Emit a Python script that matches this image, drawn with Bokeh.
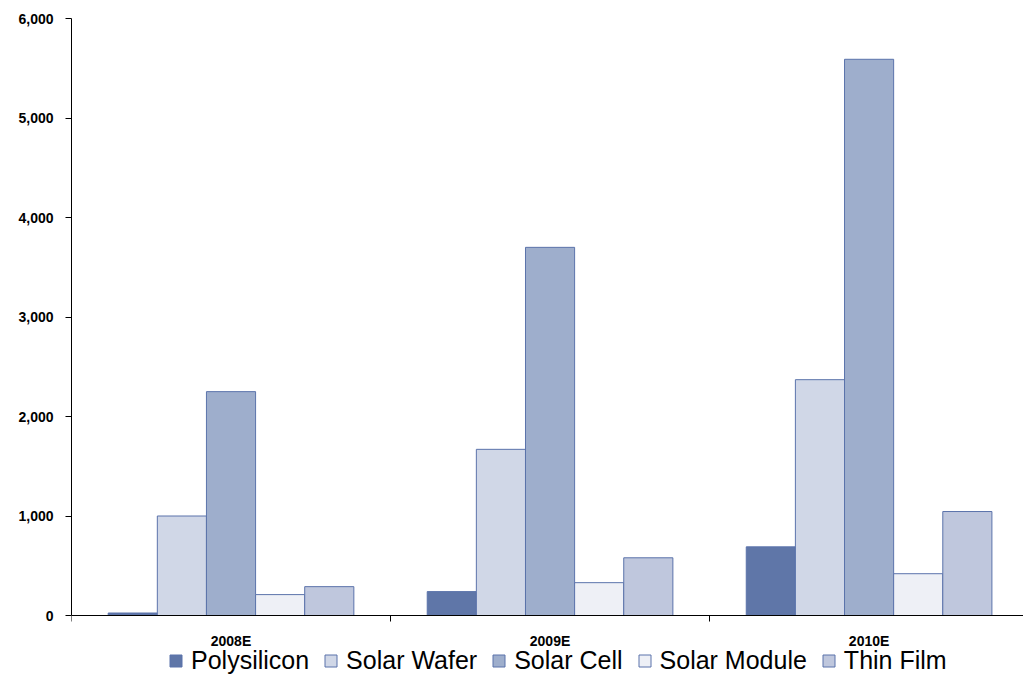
from bokeh.plotting import figure
from bokeh.models import (ColumnDataSource, Range1d, FixedTicker, NumeralTickFormatter,
                          Legend, LegendItem)
from bokeh.transform import dodge
from bokeh.embed import file_html
from bokeh.resources import INLINE

years = ["2008E", "2009E", "2010E"]
series = ["Polysilicon", "Solar Wafer", "Solar Cell", "Solar Module", "Thin Film"]
polysilicon = [25, 240, 690]
solar_wafer = [1000, 1670, 2370]
solar_cell = [2250, 3700, 5590]
solar_module = [210, 330, 420]
thin_film = [290, 580, 1045]
y_ticks = [0, 1000, 2000, 3000, 4000, 5000, 6000]

colors = ["#5f76a8", "#d0d7e7", "#9eaecc", "#eef0f6", "#bfc7dd"]
outline = "#5b73ab"

centers = [i + 0.5 for i in range(len(years))]
source = ColumnDataSource(dict(x=centers, Polysilicon=polysilicon, **{
    "Solar Wafer": solar_wafer, "Solar Cell": solar_cell,
    "Solar Module": solar_module, "Thin Film": thin_film}))

p = figure(width=1023, height=675, output_backend="svg", toolbar_location=None,
           x_range=Range1d(0, 2.984), y_range=Range1d(-603, 6000),
           min_border_left=71, min_border_right=0, min_border_top=18,
           min_border_bottom=0)
p.outline_line_color = None
p.grid.visible = False

bw = 0.154
items = []
for j, (name, c) in enumerate(zip(series, colors)):
    r = p.vbar(x=dodge("x", (j - 2) * bw, range=p.x_range), top=name, bottom=0, width=bw,
               source=source, fill_color=c, line_color=outline, line_width=1)
    items.append(LegendItem(label=name, renderers=[r]))

xa = p.xaxis[0]
xa.fixed_location = 0
xa.ticker = FixedTicker(ticks=centers, minor_ticks=[0, 1, 2, 3])
xa.major_label_overrides = {c: y for c, y in zip(centers, years)}
xa.major_tick_line_color = None
xa.major_tick_out = 6
xa.minor_tick_in = 0
xa.minor_tick_out = 6
xa.minor_tick_line_color = "black"
xa.axis_line_color = "black"
xa.axis_line_width = 1
xa.major_label_standoff = 11
xa.axis_label_standoff = 0
xa.major_label_text_font = "Liberation Sans"
xa.major_label_text_font_style = "bold"
xa.major_label_text_font_size = "14px"
xa.major_label_text_color = "black"

ya = p.yaxis[0]
ya.bounds = (0, 6000)
ya.ticker = FixedTicker(ticks=y_ticks)
ya.formatter = NumeralTickFormatter(format="0,0")
ya.minor_tick_line_color = None
ya.major_tick_in = 0
ya.major_tick_out = 6
ya.major_tick_line_color = "black"
ya.axis_line_color = "black"
ya.major_label_standoff = 12
ya.major_label_text_font = "Liberation Sans"
ya.major_label_text_font_style = "bold"
ya.major_label_text_font_size = "14px"
ya.major_label_text_color = "black"

legend = Legend(items=items, orientation="horizontal", location=(97, 0),
                label_text_font="Liberation Sans", label_text_font_size="25px",
                label_text_color="black", glyph_width=15, glyph_height=15,
                label_standoff=8, spacing=14, padding=0, margin=0,
                label_height=24, border_line_color=None, background_fill_alpha=0)
p.add_layout(legend, "center")

open("out.html", "w").write(file_html(p, INLINE))
